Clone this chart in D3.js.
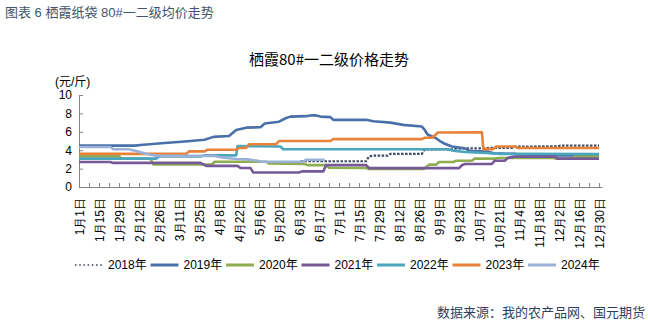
<!DOCTYPE html>
<html><head><meta charset="utf-8">
<script src="https://cdn.jsdelivr.net/npm/d3@7"></script>
<style>
html,body{margin:0;padding:0;background:#fff;}
svg{display:block;font-family:"Liberation Sans","Noto Sans CJK SC",sans-serif;}
</style></head>
<body>
<svg id="c" width="648" height="322"></svg>
<script>
// ---- data: [day of year (0 = Jan 1), price yuan/jin] ----
const years = ["2018年","2019年","2020年","2021年","2022年","2023年","2024年"];
const s2018 = [[155,2.8],[201,2.8],[203,3.33],[206,3.4],[216,3.4],[218,3.6],[240,3.6],[242,4.1],[262,4.1],[264,4.18],[282,4.2],[284,4.24],[304,4.26],[306,4.4],[335,4.41],[337,4.5],[364,4.5]];
const s2019 = [[0,4.5],[39,4.5],[45,4.6],[60,4.78],[74,4.95],[88,5.13],[94,5.45],[105,5.55],[110,6.2],[117,6.45],[127,6.5],[130,6.9],[140,7.1],[145,7.5],[148,7.65],[159,7.7],[162,7.78],[166,7.78],[169,7.65],[176,7.6],[178,7.3],[201,7.3],[206,7.15],[218,7.0],[227,6.75],[240,6.57],[242,6.2],[244,5.7],[250,5.3],[253,4.95],[256,4.7],[261,4.4],[270,4.2],[274,3.9],[286,3.85],[290,3.66],[305,3.6],[310,3.45],[364,3.4]];
const s2020 = [[0,3.33],[28,3.33],[30,3.08],[50,3.08],[52,2.45],[93,2.45],[95,2.75],[131,2.75],[133,2.55],[158,2.5],[160,2.38],[173,2.38],[175,2.1],[201,2.07],[203,1.95],[241,1.95],[243,2.14],[245,2.43],[250,2.43],[252,2.72],[262,2.72],[264,2.86],[275,2.86],[277,3.08],[291,3.08],[293,3.15],[332,3.15],[334,3.08],[345,3.08],[347,3.3],[364,3.3]];
const s2021 = [[0,2.72],[22,2.72],[24,2.62],[85,2.62],[89,2.3],[111,2.3],[113,2.07],[120,2.07],[122,1.58],[154,1.58],[156,1.7],[171,1.7],[173,2.38],[201,2.38],[203,2.05],[266,2.05],[268,2.36],[270,2.5],[289,2.5],[291,2.86],[298,2.86],[300,3.15],[305,3.3],[333,3.3],[335,3.08],[364,3.08]];
const s2022 = [[0,3.08],[54,3.08],[56,3.33],[85,3.33],[88,3.44],[110,3.44],[111,4.45],[141,4.4],[143,4.1],[258,4.1],[262,3.95],[270,3.8],[285,3.7],[295,3.6],[364,3.58]];
const s2023 = [[0,3.6],[75,3.6],[77,3.87],[88,3.87],[90,4.05],[110,4.05],[112,4.24],[117,4.24],[119,4.65],[138,4.65],[140,5.0],[176,5.0],[178,5.22],[240,5.2],[242,5.35],[247,5.35],[249,5.6],[251,5.92],[282,5.95],[283,4.12],[290,4.12],[292,4.41],[305,4.41],[307,4.24],[364,4.24]];
const s2024 = [[0,4.35],[22,4.35],[24,4.1],[35,4.1],[40,3.9],[45,3.7],[50,3.5],[55,3.38],[95,3.38],[100,3.2],[110,3.05],[118,3.0],[125,2.85],[128,2.75],[157,2.75],[159,2.97],[172,2.97]];
const tickLabels = ["1月1日","1月15日","1月29日","2月12日","2月26日","3月11日","3月25日","4月8日","4月22日","5月6日","5月20日","6月3日","6月17日","7月1日","7月15日","7月29日","8月12日","8月26日","9月9日","9月23日","10月7日","10月21日","11月4日","11月18日","12月2日","12月16日","12月30日"];
const yTicks = [0,2,4,6,8,10];

const seriesData = [s2018,s2019,s2020,s2021,s2022,s2023,s2024];
const colors = ["#3d4b63","#4a70a9","#8fad4f","#765a98","#4aa5bd","#e8823a","#9bb1d8"];

const svg = d3.select("#c");
const x = d3.scaleLinear().domain([0,366]).range([79,601.9]);
const y = d3.scaleLinear().domain([0,10]).range([187,95]);
const axisCol = "#868686";

// header / title / source
svg.append("text").attr("x",5).attr("y",17).attr("font-size",13).attr("fill","#44546a")
  .text("图表 6 栖霞纸袋 80#一二级均价走势");
svg.append("text").attr("x",329).attr("y",65).attr("text-anchor","middle").attr("font-size",15).attr("fill","#000")
  .attr("font-family","'Noto Sans CJK SC',sans-serif").text("栖霞80#一二级价格走势");
svg.append("text").attr("x",55).attr("y",86).attr("font-size",12).attr("fill","#000").text("(元/斤)");
svg.append("text").attr("x",645).attr("y",317).attr("text-anchor","end").attr("font-size",13).attr("fill","#2e3f5c")
  .text("数据来源：我的农产品网、国元期货");

// axes
const yAxis = d3.axisLeft(y).tickValues(yTicks).tickSizeInner(-4).tickSizeOuter(0).tickPadding(7);
const gy = svg.append("g").attr("transform",`translate(${x(0)},0)`).call(yAxis);
gy.selectAll("path,line").attr("stroke",axisCol);
gy.selectAll("text").attr("font-size",12).attr("fill","#000").attr("font-family","'Liberation Sans',sans-serif");

const tickDays = d3.range(0,365,7);
const xAxis = d3.axisBottom(x).tickValues(tickDays).tickSizeInner(-4).tickSizeOuter(0)
  .tickFormat((d,i)=> i%2===0 ? tickLabels[i/2] : "");
const gx = svg.append("g").attr("transform",`translate(0,${y(0)})`).call(xAxis);
gx.selectAll("path,line").attr("stroke",axisCol);
gx.selectAll("text").attr("font-size",12).attr("fill","#000")
  .attr("transform","rotate(-90)").attr("x",-11).attr("y",0).attr("dy","0.35em").style("text-anchor","end");

// lines
const line = d3.line().x(d=>x(d[0])).y(d=>y(d[1]));
seriesData.forEach((s,i)=>{
  svg.append("path").datum(s).attr("d",line).attr("fill","none")
    .attr("stroke",colors[i]).attr("stroke-width",i===0?2.2:2.6)
    .attr("stroke-linejoin","round")
    .attr("stroke-dasharray",i===0?"2.5,1.5":null);
});

// legend
const lg = svg.append("g");
years.forEach((name,i)=>{
  const x0 = 74 + i*75.5;
  lg.append("line").attr("x1",x0+1).attr("x2",x0+29).attr("y1",265).attr("y2",265)
    .attr("stroke",colors[i]).attr("stroke-width",i===0?1.6:3)
    .attr("stroke-dasharray",i===0?"1.6,2.6":null);
  lg.append("text").attr("x",x0+34).attr("y",265).attr("dy","0.35em").attr("font-size",12).attr("fill","#000").text(name);
});
</script>
</body></html>
